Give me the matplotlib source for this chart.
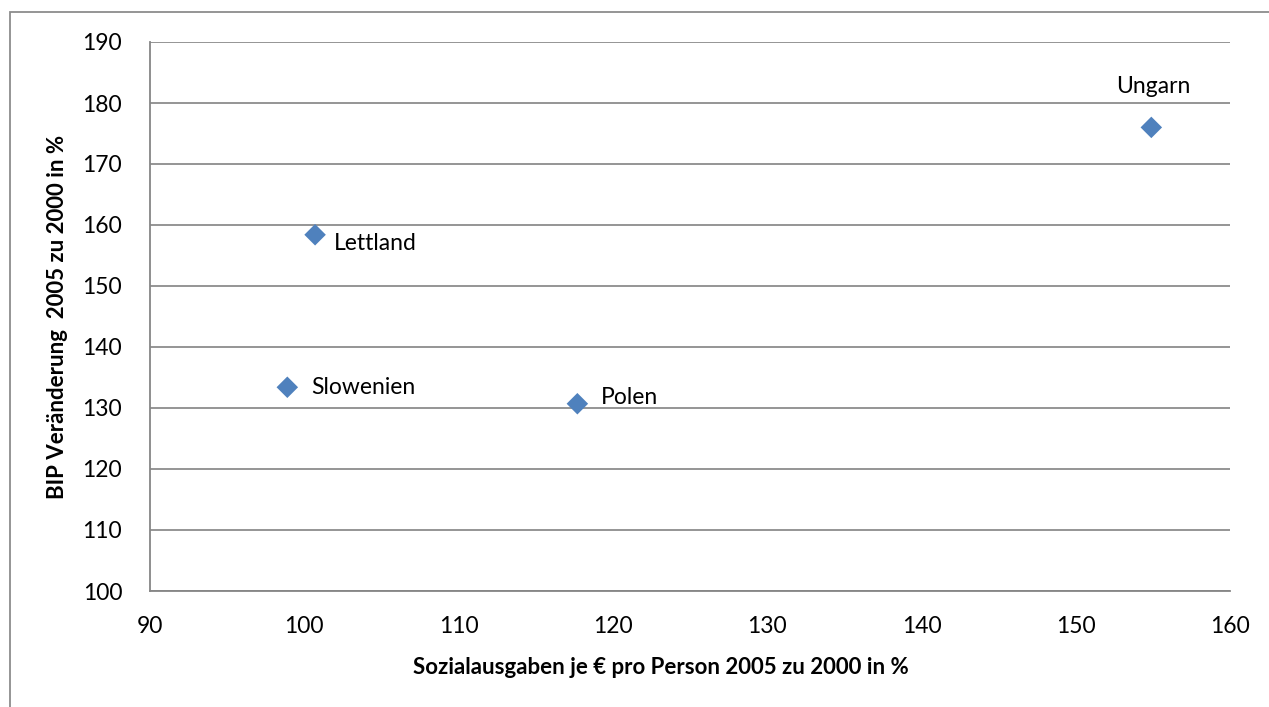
import matplotlib.pyplot as plt
from matplotlib.patches import Rectangle

plt.rcParams['font.family'] = ['Lato', 'DejaVu Sans']

laender = ['Lettland', 'Slowenien', 'Polen', 'Ungarn']
sozialausgaben = [100.7, 98.9, 117.7, 154.9]
bip = [158.4, 133.4, 130.7, 176.0]
# label offsets in pixels (dx, dy)
offsets = [(19, -9), (24, 0), (24, 6), (-35, 41)]

fig = plt.figure(figsize=(12.69, 7.07), dpi=100)
ax = fig.add_axes([150 / 1269, 1 - 591 / 707, 1080 / 1269, 549 / 707])

ax.scatter(sozialausgaben, bip, marker='D', s=120, color='#4F81BD',
           edgecolors='none', zorder=3)
for name, x, y, (dx, dy) in zip(laender, sozialausgaben, bip, offsets):
    ax.annotate(name, (x, y), xytext=(dx, dy), textcoords='offset pixels',
                fontsize=16.5, va='center', ha='left')

ax.set_xlim(90, 160)
ax.set_ylim(100, 190)
ax.set_xticks(range(90, 161, 10))
ax.set_yticks(range(100, 191, 10))
ax.tick_params(length=0, labelsize=16.5)
ax.tick_params(axis='x', pad=18)
ax.tick_params(axis='y', pad=20)
ax.grid(axis='y', color='#8C8C8C', linewidth=1.3)
ax.set_axisbelow(True)
for s in ['top', 'right']:
    ax.spines[s].set_visible(False)
for s in ['left', 'bottom']:
    ax.spines[s].set_color('#868686')
    ax.spines[s].set_linewidth(1.3)

ax.set_xlabel('Sozialausgaben je € pro Person 2005 zu 2000 in %',
              fontsize=16, fontweight='bold', va='center')
ax.xaxis.set_label_coords((661 - 150) / 1080, (591 - 668) / 549)
ax.set_ylabel('BIP Veränderung  2005 zu 2000 in %',
              fontsize=16, fontweight='bold', va='center')
ax.yaxis.set_label_coords((58 - 150) / 1080, 0.5)

fig.patches.append(Rectangle((10 / 1269, -0.1), 2, 1.1 - 12 / 707,
                             transform=fig.transFigure, fill=False,
                             edgecolor='#8C8C8C', linewidth=1.3))

fig.savefig('out.png', dpi=100)
